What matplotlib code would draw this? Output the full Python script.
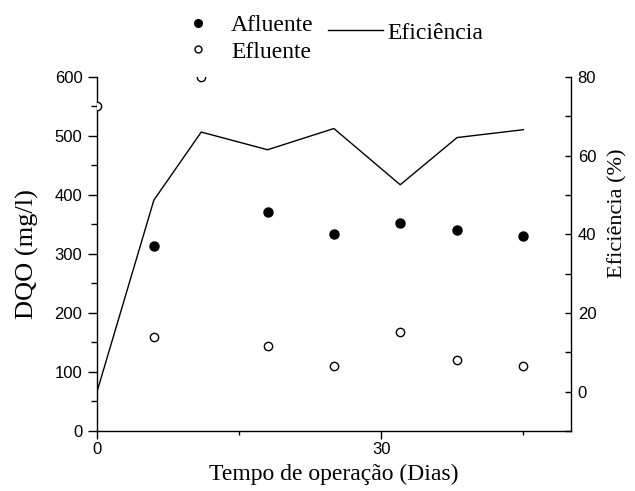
import numpy as np
import matplotlib.pyplot as plt
from matplotlib.lines import Line2D
from matplotlib.ticker import MultipleLocator

# DQO afluente / efluente (mg/l) e eficiencia de remocao (%)
dias_afl = [6, 18, 25, 32, 38, 45]
afluente = [313, 371, 334, 352, 340, 330]

dias_efl = [0, 6, 11, 18, 25, 32, 38, 45]
efluente = [550, 160, 600, 144, 111, 168, 121, 111]

dias_efi = [0, 6, 11, 18, 25, 32, 38, 45]
eficiencia = [0, 48.7, 66, 61.5, 66.9, 52.6, 64.6, 66.6]

serif = 'Liberation Serif'
sans = 'Liberation Sans'

fig = plt.figure(figsize=(6.35, 4.91), dpi=100)
ax = fig.add_axes([0.1528, 0.1222, 0.746, 0.721])
ax2 = ax.twinx()

ax.plot(dias_afl, afluente, 'o', color='black', markersize=6.5, zorder=3)
ax.plot(dias_efl, efluente, 'o', mfc='white', mec='black', mew=1.0,
        markersize=6, zorder=3)
ax2.plot(dias_efi, eficiencia, '-', color='black', lw=1.0)

ax.set_xlim(0, 50)
ax.set_ylim(0, 600)
ax2.set_ylim(-10, 80)

ax.xaxis.set_major_locator(MultipleLocator(30))
ax.xaxis.set_minor_locator(MultipleLocator(15))
ax.yaxis.set_major_locator(MultipleLocator(100))
ax.yaxis.set_minor_locator(MultipleLocator(50))
ax2.set_yticks([0, 20, 40, 60, 80])
ax2.yaxis.set_minor_locator(MultipleLocator(10))

for a in (ax, ax2):
    a.spines['top'].set_visible(False)
    for s in a.spines.values():
        s.set_linewidth(1.0)
ax.spines['right'].set_visible(False)
ax2.spines['left'].set_visible(False)
ax2.spines['bottom'].set_visible(False)

ax.tick_params(axis='x', which='major', direction='out', length=6, width=1,
               labelsize=12, pad=2)
ax.tick_params(axis='x', which='minor', direction='out', length=3, width=1)
ax.tick_params(axis='y', which='major', direction='out', length=6.5, width=1,
               labelsize=12, pad=4)
ax.tick_params(axis='y', which='minor', direction='out', length=4, width=1)
ax2.tick_params(axis='y', which='major', direction='in', length=4.5, width=1,
                labelsize=12, pad=5)
ax2.tick_params(axis='y', which='minor', direction='in', length=4.5, width=1)

for lab in ax.get_xticklabels() + ax.get_yticklabels() + ax2.get_yticklabels():
    lab.set_fontfamily(sans)

ax.set_xlabel('Tempo de operação (Dias)', fontfamily=serif, fontsize=17,
              labelpad=5)
ax.set_ylabel('DQO (mg/l)', fontfamily=serif, fontsize=19, labelpad=11)
ax2.set_ylabel('Eficiência (%)', fontfamily=serif, fontsize=16)
ax2.yaxis.set_label_coords(1.078, 0.616)

h_afl = Line2D([], [], ls='none', marker='o', color='black', markersize=5.5)
h_efl = Line2D([], [], ls='none', marker='o', mfc='white', mec='black',
               mew=1.0, markersize=5)
h_efi = Line2D([], [], color='black', lw=1.0)

leg1 = fig.legend([h_afl, h_efl], ['Afluente', 'Efluente'], loc='upper left',
                  bbox_to_anchor=(0.293, 0.97), frameon=False,
                  prop={'family': serif, 'size': 17}, handlelength=1.0,
                  handletextpad=0.9, labelspacing=0.2, borderpad=0,
                  borderaxespad=0)
leg2 = fig.legend([h_efi], ['Eficiência'], loc='upper left',
                  bbox_to_anchor=(0.517, 0.955), frameon=False,
                  prop={'family': serif, 'size': 17}, handlelength=2.3,
                  handletextpad=0.2, borderpad=0, borderaxespad=0)

fig.savefig('out.png', dpi=100)
